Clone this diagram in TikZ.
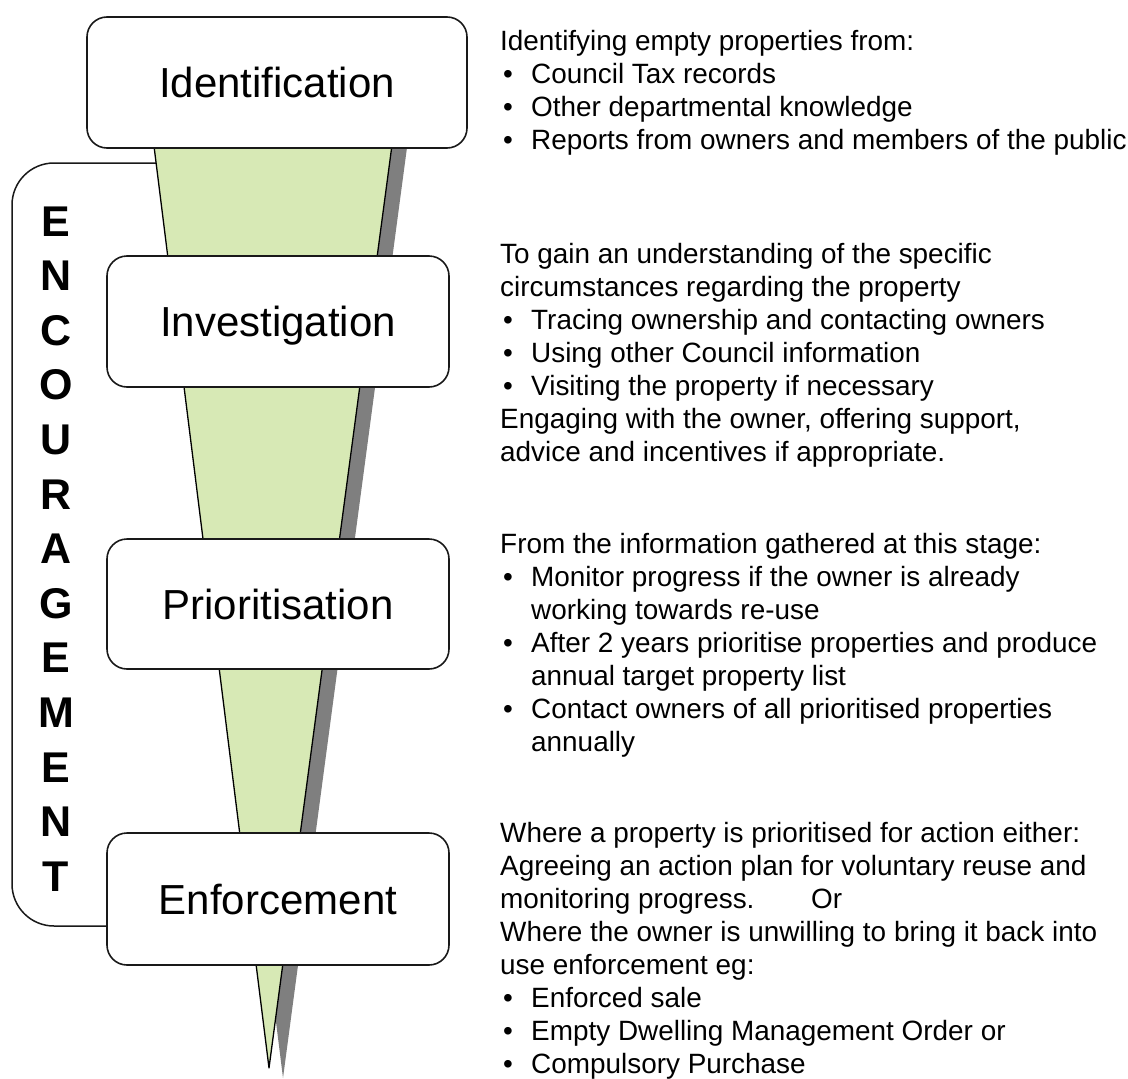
\documentclass[tikz,border=0pt]{standalone}
\usepackage{fontspec}
\usetikzlibrary{backgrounds}
\setmainfont{Liberation Sans}
\definecolor{funnelgreen}{HTML}{D7E9B5}
\definecolor{shadowgray}{HTML}{7F7F7F}
\newcommand\bul[1]{\hspace*{3pt}\makebox[28pt][l]{\textbullet}#1}
\newcommand\cont[1]{\hspace*{31pt}#1}
\begin{document}
\begin{tikzpicture}[x=1pt,y=-1pt,
  stage/.style={draw=black!90, line width=1.6pt, fill=white, rounded corners=20pt,
    minimum width=342pt, minimum height=131pt, inner sep=0pt,
    text height=30pt, text depth=0pt,
    font=\fontsize{42}{50}\selectfont},
  letter/.style={anchor=base, inner sep=0pt, font=\fontsize{43}{50}\selectfont\bfseries},
  desc/.style={anchor=base west, inner sep=0pt, align=left,
    font=\fontsize{27.9}{33.1}\selectfont},
  outline/.style={draw=black!90, line width=1.5pt}
]
\useasboundingbox (0,0) rectangle (1128,1079);

% stage boxes
\node[stage, minimum width=380pt] (ident) at (277,82.5) {Identification};
\node[stage] (invest) at (278,321.5) {Investigation};
\node[stage, minimum height=130pt] (prior) at (278,604) {Prioritisation};
\node[stage, minimum height=132pt] (enf) at (278,899) {Enforcement};

% encouragement bracket and funnel behind the boxes
\coordinate (bk) at (0,926);
\coordinate (bstart) at (175,163);
\coordinate (tl) at (152,130);
\coordinate (tr) at (394,130);
\coordinate (tip) at (269,1068);
\begin{scope}[on background layer]
\draw[outline, rounded corners=42pt] (bstart) -- (12,163) -- (12,926) -- (enf.west |- bk);
\fill[shadowgray] ([shift={(14,10)}]tl) -- ([shift={(14,10)}]tr) -- ([shift={(14,10)}]tip) -- cycle;
\filldraw[fill=funnelgreen, draw=black, line width=1.3pt, line join=round] (tl) -- (tr) -- (tip) -- cycle;
\end{scope}

% vertical word
\foreach \L [count=\i from 0] in {E,N,C,O,U,R,A,G,E,M,E,N,T}
  \node[letter] (enc\i) at (56,236+54.6*\i) {\L};

% descriptions
\node[desc] (d1) at (500,50) {\parbox[t]{628pt}{\raggedright
Identifying empty properties from:\\
\bul{Council Tax records}\\
\bul{Other departmental knowledge}\\
\bul{Reports from owners and members of the public}}};

\node[desc] (d2) at (500,263) {\parbox[t]{628pt}{\raggedright
To gain an understanding of the specific\\
circumstances regarding the property\\
\bul{Tracing ownership and contacting owners}\\
\bul{Using other Council information}\\
\bul{Visiting the property if necessary}\\
Engaging with the owner, offering support,\\
advice and incentives if appropriate.}};

\node[desc] (d3) at (500,553) {\parbox[t]{628pt}{\raggedright
From the information gathered at this stage:\\
\bul{Monitor progress if the owner is already}\\
\cont{working towards re-use}\\
\bul{After 2 years prioritise properties and produce}\\
\cont{annual target property list}\\
\bul{Contact owners of all prioritised properties}\\
\cont{annually}}};

\node[desc] (d4) at (500,842) {\parbox[t]{628pt}{\raggedright
Where a property is prioritised for action either:\\
Agreeing an action plan for voluntary reuse and\\
\makebox[311pt][l]{monitoring progress.}Or\\
Where the owner is unwilling to bring it back into\\
use enforcement eg:\\
\bul{Enforced sale}\\
\bul{Empty Dwelling Management Order or}\\
\bul{Compulsory Purchase}}};
\end{tikzpicture}
\end{document}
